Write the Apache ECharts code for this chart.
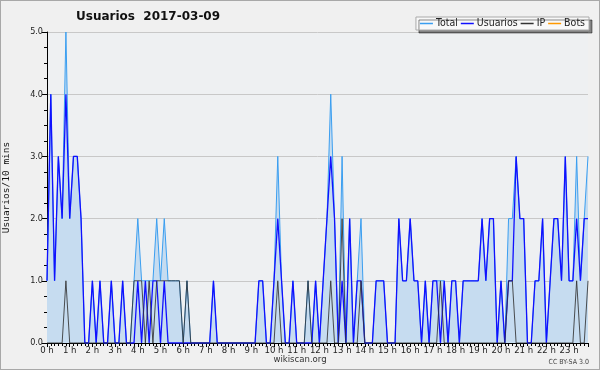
<!DOCTYPE html>
<html><head><meta charset="utf-8">
<script src="https://cdn.jsdelivr.net/npm/echarts@6/dist/echarts.min.js"></script>
<style>
html,body{margin:0;padding:0;background:#f0f0f0;}
#c{width:598px;height:368px;border:1px solid #a8a8a8;}
</style></head><body>
<div id="c"></div>
<script>
var titleText = 'Usuarios  2017-03-09';
var seriesNames = ['Total', 'Usuarios', 'IP', 'Bots'];
var hourLabels = ['0 h','1 h','2 h','3 h','4 h','5 h','6 h','7 h','8 h','9 h','10 h','11 h','12 h','13 h','14 h','15 h','16 h','17 h','18 h','19 h','20 h','21 h','22 h','23 h'];
var yTicks = ['0.0','1.0','2.0','3.0','4.0','5.0'];
// values per 10-minute slot (144 slots)
var total = [1,4,1,3,2,5,2,3,3,2, 0,0,1,0,1,0,0,1,0,0, 1,0,0,1,2,1,1,1,1,2,
             1,2,1,1,1,1,0,1,0,0, 0,0,0,0,1,0,0,0,0,0, 0,0,0,0,0,0,1,1,0,0,
             1,3,1,0,0,1,0,0,0,1, 0,1,0,1,2,4,2,0,3,0, 2,0,1,2,0,0,0,1,1,1,
             0,0,0,2,1,1,2,1,1,0, 1,0,1,1,1,1,0,1,1,0, 1,1,1,1,1,2,1,2,2,0,
             1,0,2,2,3,2,2,0,0,1, 1,2,0,1,2,2,1,3,1,1, 3,1,2,3];
var usuarios = [1,4,1,3,2,4,2,3,3,2, 0,0,1,0,1,0,0,1,0,0, 1,0,0,0,1,0,1,0,1,1,
                0,1,0,0,0,0,0,0,0,0, 0,0,0,0,1,0,0,0,0,0, 0,0,0,0,0,0,1,1,0,0,
                1,2,1,0,0,1,0,0,0,0, 0,1,0,1,2,3,2,0,1,0, 2,0,1,1,0,0,0,1,1,1,
                0,0,0,2,1,1,2,1,1,0, 1,0,1,1,0,1,0,1,1,0, 1,1,1,1,1,2,1,2,2,0,
                1,0,1,1,3,2,2,0,0,1, 1,2,0,1,2,2,1,3,1,1, 2,1,2,2];
var ip = [0,0,0,0,0,1,0,0,0,0, 0,0,0,0,0,0,0,0,0,0, 0,0,0,1,1,1,0,1,0,1,
          1,1,1,1,1,1,0,1,0,0, 0,0,0,0,0,0,0,0,0,0, 0,0,0,0,0,0,0,0,0,0,
          0,1,0,0,0,0,0,0,0,1, 0,0,0,0,0,1,0,0,2,0, 0,0,0,1,0,0,0,0,0,0,
          0,0,0,0,0,0,0,0,0,0, 0,0,0,0,1,0,0,0,0,0, 0,0,0,0,0,0,0,0,0,0,
          0,0,1,1,0,0,0,0,0,0, 0,0,0,0,0,0,0,0,0,0, 1,0,0,1];
var bots = [];

function pairs(arr){ return arr.map(function(v,i){ return [i, v]; }); }

var chart = echarts.init(document.getElementById('c'), null, {renderer:'canvas'});
var FONT = 'DejaVu Sans';
var CFONT = '"DejaVu Sans Condensed", "DejaVu Sans"';
chart.setOption({
  animation: false,
  backgroundColor: '#f0f0f0',
  textStyle: {fontFamily: FONT},
  title: {text: titleText, left: 75, top: 10, padding: 0,
          textStyle: {fontSize: 12, fontWeight: 'bold', color: '#111', fontFamily: FONT}},
  legend: {data: seriesNames, right: 10, top: 16, padding: [1,4,1,4],
           backgroundColor: '#f8f8f8', borderColor: '#aaa', borderWidth: 1,
           shadowColor: 'rgba(0,0,0,0.45)', shadowOffsetX: 3, shadowOffsetY: 3, shadowBlur: 0,
           itemWidth: 13, itemHeight: 1.5, itemGap: 3, icon: 'rect',
           textStyle: {fontSize: 10.5, color: '#222', padding: [0,0,0,-2], fontFamily: CFONT}},
  grid: {left: 46, right: 11, top: 31, bottom: 26, show: true, backgroundColor: '#eef0f2', borderWidth: 0,
         containLabel: false, outerBoundsMode: 'none'},
  xAxis: {type: 'value', min: 0, max: 143, interval: 6,
          axisLine: {lineStyle: {color: '#000', width: 1}},
          axisTick: {length: 4, lineStyle: {color: '#000'}},
          minorTick: {show: true, splitNumber: 6, length: 3, lineStyle: {color: '#000'}},
          splitLine: {show: false},
          axisLabel: {fontSize: 9.5, color: '#222', margin: 3, fontFamily: CFONT,
                      formatter: function(v){ return hourLabels[v/6] || ''; }}},
  yAxis: {type: 'value', min: 0, max: 5, interval: 1,
          name: 'Usuarios/10 mins', nameLocation: 'middle', nameGap: 35, nameRotate: 90,
          nameTextStyle: {fontSize: 9.5, color: '#111', fontFamily: 'DejaVu Sans Mono'},
          axisLine: {show: true, lineStyle: {color: '#000', width: 1}},
          axisTick: {show: true, length: 5, lineStyle: {color: '#000'}},
          minorTick: {show: true, splitNumber: 4, length: 3, lineStyle: {color: '#000'}},
          splitLine: {show: true, lineStyle: {color: '#c8c8c8', width: 1}},
          axisLabel: {fontSize: 9, color: '#222', margin: 4, fontFamily: CFONT,
                      formatter: function(v){ return yTicks[v] || ''; }}},
  series: [
    {name: 'Total', type: 'line', data: pairs(total), symbol: 'none',
     lineStyle: {color: '#3a9ef0', width: 1}, itemStyle: {color: '#3a9ef0'},
     areaStyle: {color: '#c6dcf0', opacity: 1}, z: 2},
    {name: 'Usuarios', type: 'line', data: pairs(usuarios), symbol: 'none',
     lineStyle: {color: '#1010ff', width: 1.3}, itemStyle: {color: '#1010ff'}, z: 3},
    {name: 'IP', type: 'line', data: pairs(ip), symbol: 'none',
     lineStyle: {color: '#333333', width: 1, opacity: 0.85}, itemStyle: {color: '#333333'}, z: 4},
    {name: 'Bots', type: 'line', data: pairs(bots), symbol: 'none',
     lineStyle: {color: '#ff9900', width: 1}, itemStyle: {color: '#ff9900'}, z: 5}
  ],
  graphic: [
    {type: 'text', left: 'center', top: 354, style: {text: 'wikiscan.org', font: '9.5px "DejaVu Sans Condensed", "DejaVu Sans"', fill: '#333'}},
    {type: 'text', right: 10, top: 358, style: {text: 'CC BY-SA 3.0', font: '7px "DejaVu Sans Condensed", "DejaVu Sans"', fill: '#444'}}
  ]
});
</script>
</body></html>
